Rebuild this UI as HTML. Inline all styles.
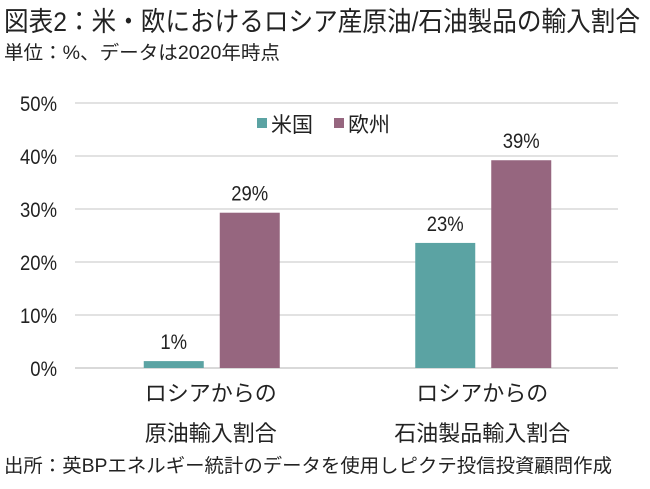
<!DOCTYPE html>
<html><head><meta charset="utf-8"><style>
body{margin:0;background:#fff;width:650px;height:484px;overflow:hidden;font-family:"Liberation Sans","Noto Sans CJK JP",sans-serif;}
svg text{font-family:"Liberation Sans","Noto Sans CJK JP",sans-serif;fill:#222;}
</style></head><body>
<svg id="c" width="650" height="484">
<text x="4" y="31" font-size="27" textLength="636" lengthAdjust="spacingAndGlyphs">図表2：米・欧におけるロシア産原油/石油製品の輸入割合</text>
<text x="4" y="59" font-size="19" textLength="276" lengthAdjust="spacingAndGlyphs">単位：%、データは2020年時点</text>
<text x="4" y="472" font-size="19" textLength="608" lengthAdjust="spacingAndGlyphs">出所：英BPエネルギー統計のデータを使用しピクテ投信投資顧問作成</text>
<g>
<rect x="257" y="118" width="10" height="10" fill="#5ba3a3"/>
<text x="271" y="132" font-size="21">米国</text>
<rect x="334" y="118" width="10" height="10" fill="#96667f"/>
<text x="348" y="132" font-size="21">欧州</text>
</g>
</svg>
<script>
const categories=[["ロシアからの","原油輸入割合"],["ロシアからの","石油製品輸入割合"]];
const usValues=[1.3,23.6];
const euValues=[29.3,39.2];
const usLabels=["1%","23%"];
const euLabels=["29%","39%"];
const yTicks=[0,10,20,30,40,50];
const svg=document.getElementById('c');const NS="http://www.w3.org/2000/svg";
const x0=75,x1=618,y0=368,pxPer=5.3;
const y=v=>y0-v*pxPer;
const groupW=(x1-x0)/categories.length;
function mk(t,a,txt){const e=document.createElementNS(NS,t);for(const k in a)e.setAttribute(k,a[k]);if(txt!=null)e.textContent=txt;svg.appendChild(e);return e;}
yTicks.forEach(t=>{
const g=mk('line',{x1:x0,x2:x1,y1:y(t),y2:y(t),stroke:'#d9d9d9','stroke-width':t===0?2:1.5});


const l=mk('text',{x:57,y:y(t)+8,'font-size':21,'text-anchor':'end',transform:'translate(57 0) scale(0.88 1) translate(-57 0)'},t+'%');


});
const bw=60;
categories.forEach((c,i)=>{
const cx=x0+groupW*(i+0.5);
[[usValues,usLabels,'#5ba3a3','us',cx-bw-7],[euValues,euLabels,'#96667f','eu',cx+9]].forEach(([vals,labs,col,nm,bx])=>{
const r=mk('rect',{x:bx,y:y(vals[i]),width:bw,height:vals[i]*pxPer,fill:col});


const tx=bx+bw/2;
const t=mk('text',{x:tx,y:y(vals[i])-12,'font-size':21,'text-anchor':'middle',transform:`translate(${tx} 0) scale(0.88 1) translate(${-tx} 0)`},labs[i]);


});
c.forEach((ln,j)=>{
const t=mk('text',{x:cx,y:401+j*40,'font-size':22,'text-anchor':'middle'},ln);


});
});
</script>
</body></html>
